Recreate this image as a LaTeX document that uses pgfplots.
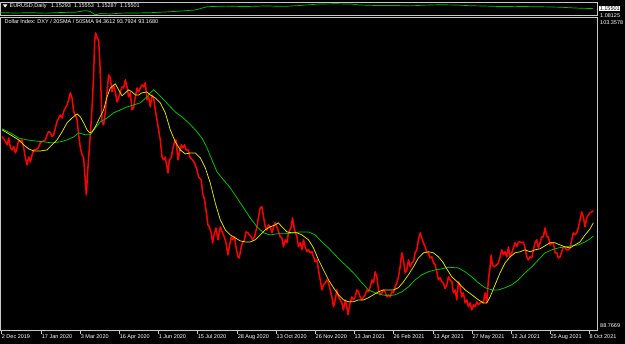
\documentclass[border=0pt]{standalone}
\usepackage{pgfplots}
\usepackage{pgfplotstable}
\pgfplotsset{compat=1.18}
\usepackage{fontspec}
\setmainfont{Liberation Sans}
\definecolor{framegrey}{RGB}{200,200,200}
\definecolor{mtred}{RGB}{255,0,0}
\definecolor{mtyellow}{RGB}{230,230,0}
\definecolor{mtgreen}{RGB}{0,200,0}
\definecolor{eugreen}{RGB}{0,190,0}
\newcommand{\tf}{\fontsize{5.5}{6}\selectfont}

\pgfplotstableread{
x y
1.7 97.84
5 97.60
6.7 97.45
8.3 97.77
10 97.31
11.7 97.21
13.3 97.37
15 97.07
16.7 97.31
18.3 97.68
20 97.60
21.7 97.68
23.3 97.31
25 96.84
26.7 96.51
28.3 96.88
30 96.65
31.7 96.98
33.3 97.21
35 97.21
38 97.31
40 97.54
41.7 97.60
45 97.68
46.7 97.92
48.3 98.07
50 98.01
51.7 97.84
53.3 97.92
55 98.24
56.7 98.54
58.3 98.71
60 98.85
61.7 98.71
63.3 99.01
65 99.18
66.7 99.32
68.3 99.56
70 99.89
71.7 99.65
73.3 99.01
75 98.85
76.7 98.62
78.3 97.92
80 97.31
81.7 96.98
83.3 96.84
85 95.71
86 95.10
87.3 96.18
88.3 96.84
90 97.92
91.7 99.18
93.3 100.73
94.3 102.28
95.3 102.70
96.7 102.47
98.3 102.37
99.3 101.53
100.7 99.93
101.7 98.53
103.3 98.38
105 98.99
106.7 99.93
108.3 100.73
110 100.59
111.7 99.93
113.3 100.26
115 99.93
116.7 99.46
118.3 99.65
120 99.93
121.7 100.17
123.3 100.12
125 100.50
126.7 100.17
128.3 99.70
130 99.89
131.7 99.09
133.3 99.18
135 99.70
136.7 100.12
138.3 99.93
140 100.12
141.7 100.26
143.3 100.17
145 100.36
146.7 99.56
148.3 99.70
150 99.23
151.7 99.79
153.3 99.65
155 99.09
156.7 98.62
158.3 98.15
160 97.68
161.7 96.88
163.3 96.74
165 96.88
166.7 96.41
167.7 96.13
169 96.74
171 96.84
172.3 97.21
174.3 97.59
175.7 97.68
177.7 96.74
179 97.07
181 97.45
182.3 97.31
184.3 97.45
185.7 97.21
187.7 97.21
190 96.84
192.3 96.74
194.3 96.60
196.7 96.27
198.3 95.94
201 95.80
202.3 95.19
204.3 94.87
205.7 94.40
207.7 93.69
209 93.60
211 93.32
212.3 92.85
214.3 93.32
215.7 93.55
217.7 92.99
220 93.60
222.3 93.32
224.3 93.08
225.7 92.85
227.7 92.28
229 92.66
231 93.13
232.3 92.99
234.3 93.13
235.7 92.66
237.7 92.19
239 92.14
241 92.66
242.3 92.85
244.3 92.99
245.7 93.36
247.7 93.32
249 93.22
251 93.13
252.3 92.99
254.3 93.13
256.7 93.60
258.3 94.07
260 94.49
261.7 94.54
263.3 94.07
265 93.60
266.7 93.46
268.3 93.69
270 93.60
271.7 93.32
273.3 93.60
275 93.79
277.7 93.46
280 93.13
281.7 93.08
283.3 92.66
285 92.99
286.7 92.85
288.3 93.32
291 93.60
292.3 94.02
294.3 93.46
296.7 93.13
298.3 92.66
300 92.85
301.7 92.52
303.3 92.99
305 92.66
306.7 92.43
308.3 92.52
310 92.38
311.7 92.43
313.3 92.19
315 91.96
316.7 92.05
318.3 91.58
320 91.11
321.7 90.64
323.3 90.88
325 90.97
326.7 91.11
328.3 90.97
330 90.64
331.7 90.31
333.3 89.85
335 90.17
336.7 90.64
338.3 90.31
340 90.17
341.7 90.03
343.3 89.70
345 90.17
346.7 89.85
347.7 89.47
349 89.80
350 90.03
351.7 90.31
353.3 90.17
355 90.31
356.7 90.64
358.3 90.55
360 90.31
361.7 90.17
363.3 90.31
365 90.41
366.7 90.64
368.3 90.55
370 90.78
371.7 91.11
373.3 90.97
375 91.49
376.7 91.25
378.3 90.64
380 90.41
381.7 90.50
383.3 90.64
385 90.55
386.7 90.31
388.3 90.41
390 90.31
391.7 90.55
393.3 90.50
395 90.78
396.7 90.97
398.3 91.25
400 91.72
401.7 92.38
403.3 92.05
405 91.44
406.7 91.58
408.3 92.05
410 91.72
411.7 91.91
413.3 91.96
415 92.38
416.7 92.52
418.3 92.99
420 93.32
421.7 93.08
423.3 92.85
425 92.66
426.7 92.38
428.3 92.38
430 92.14
431.7 92.19
433.3 91.91
435 91.82
436.7 91.49
438.3 91.11
440 91.21
441.7 91.02
443.3 90.97
445 90.70
446.7 90.88
448.3 91.25
450 91.11
451.7 91.02
453.3 90.50
455 90.64
456.7 90.17
458.3 91.02
460 90.78
461.7 90.31
463.3 90.50
465 90.03
466.7 90.17
468.3 89.85
470 90.03
471.7 89.70
473.3 89.94
475 89.85
476.7 90.08
478.3 89.94
480 90.03
481.7 90.08
483.3 90.03
485 90.50
486.7 90.03
488.3 91.11
490 91.72
491 92.28
492.3 91.82
494.3 91.72
496.7 91.82
498.3 91.91
500 92.19
501.7 92.52
503.3 92.28
505 92.43
506.7 92.19
508.3 92.66
510 92.19
511.7 92.38
513.3 92.61
515 92.85
516.7 92.66
518.3 92.89
520 92.89
521.7 92.85
523.3 92.89
525 92.61
526.7 92.19
528.3 92.05
530 92.19
531.7 92.14
533.3 92.52
535 92.85
536.7 92.99
538.3 92.61
540 92.85
541.7 93.13
543.3 93.13
545 93.55
546.7 93.13
548.3 93.13
550 92.75
551.7 92.85
553.3 92.85
555 92.38
556.7 92.38
558.3 92.14
560 92.19
561.7 92.43
563.3 92.66
565 92.61
566.7 92.52
568.3 92.52
570 92.61
571.7 92.99
573.3 93.32
575 93.22
576.7 93.32
578.3 93.55
580 93.93
581.7 94.30
583.3 94.07
585 93.60
586.7 94.02
588.3 94.16
590 94.26
591.7 94.30
593.3 94.36
}\dxy

\pgfplotstableread{
x y
1.7 98.15
10 97.92
18.3 97.68
23.3 97.45
28.3 97.26
33.3 97.16
40 97.16
46.7 97.21
51.7 97.45
56.7 97.68
61.7 98.06
66.7 98.48
71.7 98.71
76.7 98.90
80 98.76
83.3 98.48
86.7 98.15
89.3 98.01
91.7 98.06
95 98.29
98.3 98.62
103.3 99.09
106.7 99.70
110 100.12
115 100.31
118.3 100.03
121.7 99.75
125 99.89
128.3 100.03
131.7 99.93
135 99.79
138.3 99.79
141.7 99.89
146.7 99.93
150 99.79
155 99.65
160 99.42
165 98.95
170 98.15
175 97.59
180 97.21
185 97.02
190 97.07
195 97.07
200 96.84
205 96.37
210 95.66
215 94.72
220 93.93
225 93.46
230 93.22
235 93.08
240 92.94
245 92.89
250 92.89
255 92.99
260 93.22
265 93.46
270 93.60
275 93.69
278 93.79
281.7 93.60
286.7 93.36
291.7 93.32
296.7 93.32
301.7 93.22
308.3 92.99
313.3 92.61
318.3 92.05
323.3 91.58
328.3 91.11
333.3 90.74
338.3 90.41
343.3 90.17
348.3 90.08
353.3 90.08
358.3 90.17
363.3 90.17
368.3 90.27
373.3 90.41
378.3 90.55
383.3 90.64
388.3 90.64
393.3 90.64
398.3 90.74
403.3 91.02
408.3 91.35
413.3 91.72
418.3 92.14
423.3 92.38
428.3 92.43
433.3 92.38
438.3 92.19
443.3 91.91
445 91.75
451.7 91.25
458.3 90.97
465 90.64
471.7 90.41
478.3 90.17
483.3 90.03
486.7 90.03
490 90.31
495 90.88
500 91.44
505 91.91
510 92.19
515 92.38
520 92.43
525 92.52
530 92.43
535 92.52
540 92.57
545 92.71
550 92.85
555 92.85
560 92.75
565 92.66
570 92.61
575 92.75
580 92.89
585 93.22
590 93.50
593.3 93.79
}\smatwenty

\pgfplotstableread{
x y
1.7 98.20
10 98.01
18.3 97.77
26.7 97.68
35 97.63
43.3 97.59
51.7 97.54
60 97.59
66.7 97.68
73.3 97.82
78.3 98.01
85 97.92
90 97.92
95 98.24
100 98.53
106.7 98.71
113.3 98.95
120 99.09
126.7 99.23
133.3 99.32
140 99.42
146.7 99.70
150 99.89
153.3 100.03
156.7 99.89
161.7 99.65
168.3 99.32
175 98.99
181.7 98.76
188.3 98.48
195 98.15
201.7 97.77
206.7 97.31
211.7 96.74
216.7 96.18
223.3 95.80
230 95.43
236.7 94.96
243.3 94.49
250 94.02
256.7 93.60
263.3 93.32
270 93.22
276.7 93.27
285 93.27
293.3 93.32
300 93.36
308.3 93.36
315 93.22
321.7 92.89
328.3 92.61
335 92.28
341.7 91.96
348.3 91.67
355 91.35
361.7 90.97
368.3 90.64
375 90.50
381.7 90.41
388.3 90.36
395 90.41
401.7 90.55
408.3 90.78
415 91.11
421.7 91.35
428.3 91.49
435 91.58
441.7 91.63
448.3 91.70
458.3 91.67
465 91.49
471.7 91.25
478.3 90.97
485 90.74
491.7 90.64
498.3 90.64
505 90.74
511.7 90.88
518.3 91.11
525 91.44
531.7 91.72
538.3 92.05
545 92.38
551.7 92.52
558.3 92.61
565 92.66
571.7 92.71
578.3 92.75
585 92.89
590 93.04
593.3 93.17
}\smafifty

\pgfplotstableread{
x y
0 1.1058
15 1.1022
30 1.1058
45 1.1000
60 1.1080
75 1.1120
85 1.1299
90 1.1200
95 1.0800
100 1.0950
110 1.0901
120 1.1000
135 1.1022
150 1.1058
165 1.1142
180 1.1250
195 1.1384
207 1.1782
225 1.1850
245 1.1800
265 1.1867
285 1.1820
300 1.1930
319 1.2108
335 1.2130
350 1.2108
360 1.1988
375 1.1927
395 1.1930
410 1.1880
425 1.1970
440 1.2020
455 1.1990
470 1.1900
485 1.1860
500 1.1800
515 1.1820
530 1.1790
545 1.1760
560 1.1720
575 1.1620
585 1.1580
593 1.1550
}\eurusd

\begin{document}
\begin{tikzpicture}
\fill[black] (0pt,0pt) rectangle (625pt,344pt);

% top sub-window: EURUSD daily
\begin{axis}[
  at={(0pt,329pt)}, anchor=south west, scale only axis,
  width=597pt, height=13pt,
  xmin=0, xmax=597, ymin=1.078, ymax=1.235,
  ticks=none,
  axis line style={draw=framegrey, line width=0.7pt},
]
\addplot[eugreen, line width=0.7pt] table[x=x,y=y] {\eurusd};
\end{axis}

% main window
\begin{axis}[
  at={(0pt,13pt)}, anchor=south west, scale only axis,
  width=597pt, height=314pt,
  xmin=0, xmax=597, ymin=88.72, ymax=103.45,
  axis line style={draw=framegrey, line width=0.8pt},
  xtick={1,41,80,119,158,197,237,276,315,354,393,433,472,511,550,589},
  xticklabels={2 Dec 2019,17 Jan 2020,3 Mar 2020,16 Apr 2020,1 Jun 2020,15 Jul 2020,28 Aug 2020,13 Oct 2020,26 Nov 2020,13 Jan 2021,26 Feb 2021,13 Apr 2021,27 May 2021,12 Jul 2021,25 Aug 2021,8 Oct 2021},
  xtick pos=bottom, tick align=outside, major tick length=3.5pt,
  xtick style={draw=framegrey, line width=0.6pt},
  ytick=\empty,
  xticklabel style={anchor=north west, inner sep=0pt, font=\tf, text=white, xshift=0.3pt, yshift=-0.3pt},
]
\addplot[mtred, line width=1.5pt, line join=round] table[x=x,y=y] {\dxy};
\addplot[mtgreen, line width=0.75pt] table[x=x,y=y] {\smafifty};
\addplot[mtyellow, line width=0.75pt] table[x=x,y=y] {\smatwenty};
\end{axis}

\fill[white] (2.5pt,339.5pt) -- (7pt,339.5pt) -- (4.75pt,336.5pt) -- cycle;
\node[anchor=west, inner sep=0pt, text=white, font=\fontsize{5.5}{6}\selectfont] at (9pt,338pt) {EURUSD,Daily\ \ \ 1.15293\ \ 1.15553\ \ 1.15287\ \ 1.15501};
\node[anchor=north west, inner sep=0pt, text=white, font=\tf] at (4pt,325pt) {Dollar Index: DXY / 20SMA / 50SMA 94.3612 93.7924 93.1680};
\node[anchor=west, inner sep=0pt, text=white, font=\tf] at (600pt,328.6pt) {1.08125};
\node[anchor=west, inner sep=0.6pt, fill=white, text=black, font=\tf] at (599pt,335.5pt) {1.15501};
\node[anchor=west, inner sep=0pt, text=white, font=\tf] at (600pt,321.5pt) {103.3578};
\node[anchor=west, inner sep=0pt, text=white, font=\tf] at (600pt,18pt) {88.7669};
\end{tikzpicture}
\end{document}
